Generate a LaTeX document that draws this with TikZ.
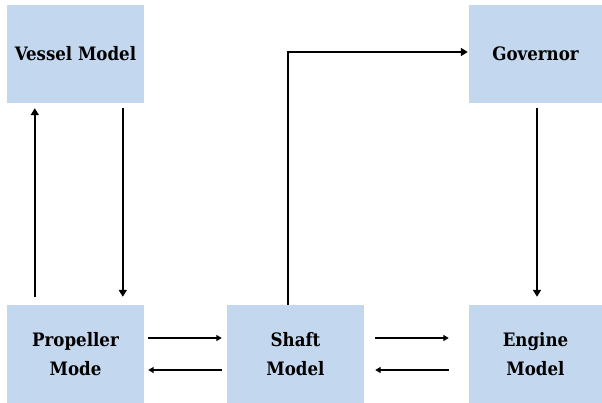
\documentclass[tikz,border=0pt]{standalone}
\usepackage{fontspec}
\setmainfont{DejaVu Serif Condensed}
\usetikzlibrary{arrows.meta}
\definecolor{boxblue}{RGB}{195,215,238}

\begin{document}
\begin{tikzpicture}[x=1pt, y=-1pt,
  block/.style={rectangle, fill=boxblue, inner sep=0pt, align=center, font=\fontsize{18.5}{29}\selectfont\bfseries},
  link/.style={-{Triangle[length=7pt, width=8pt]}, line width=2pt},
  thin link/.style={-{Triangle[length=5.5pt, width=6pt]}, line width=1.2pt}]
\useasboundingbox (0,0) rectangle (602,403);
\node[block, minimum width=137pt, minimum height=98pt] (vessel) at (75.5,54) {Vessel Model};
\node[block, minimum width=133pt, minimum height=98pt] (governor) at (535.5,54) {Governor};
\node[block, minimum width=137pt, minimum height=98pt] (propeller) at (75.5,354) {Propeller\\Mode};
\node[block, minimum width=137pt, minimum height=98pt] (shaft) at (295.5,354) {Shaft\\Model};
\node[block, minimum width=133pt, minimum height=98pt] (engine) at (535.5,354) {Engine\\Model};

\draw[link] ([xshift=28pt, yshift=8pt]propeller.north west) -- ([xshift=28pt, yshift=-5pt]vessel.south west);
\draw[link] ([xshift=116pt, yshift=-5pt]vessel.south west) -- ([xshift=116pt, yshift=8pt]propeller.north west);
\draw[link] ([xshift=-7.5pt]shaft.north) |- ([xshift=-1pt, yshift=2pt]governor.west);
\draw[link] ([xshift=1.5pt, yshift=-5pt]governor.south) -- ([xshift=1.5pt, yshift=8pt]engine.north);

\draw[thin link] ([xshift=4pt, yshift=16pt]propeller.east) -- ([xshift=-5pt, yshift=16pt]shaft.west);
\draw[thin link] ([xshift=-5pt, yshift=-16pt]shaft.west) -- ([xshift=4pt, yshift=-16pt]propeller.east);
\draw[thin link] ([xshift=11pt, yshift=16pt]shaft.east) -- ([xshift=-20pt, yshift=16pt]engine.west);
\draw[thin link] ([xshift=-20pt, yshift=-16pt]engine.west) -- ([xshift=11pt, yshift=-16pt]shaft.east);
\end{tikzpicture}
\end{document}
